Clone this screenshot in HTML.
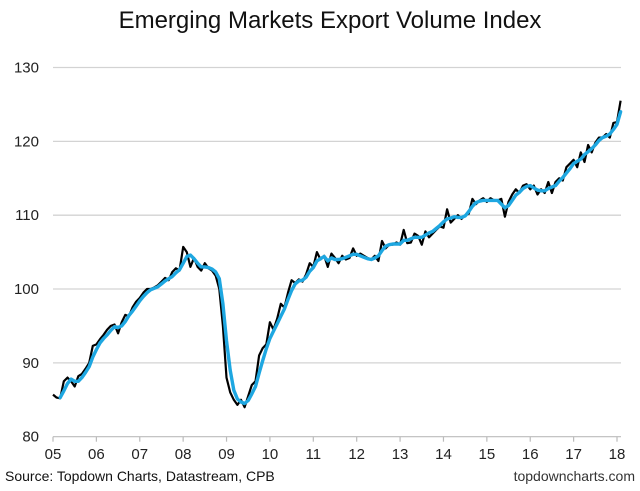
<!DOCTYPE html>
<html><head><meta charset="utf-8"><style>
body{margin:0;background:#fff;font-family:"Liberation Sans",Arial,sans-serif}
svg{display:block}
</style></head><body>
<svg id="c" width="640" height="491">
<text x="330" y="28" text-anchor="middle" font-size="24" fill="#111">Emerging Markets Export Volume Index</text>
<g id="grid"></g><g id="axes"></g><g id="series"></g>
<text x="5" y="481" font-size="14" fill="#111">Source: Topdown Charts, Datastream, CPB</text>
<text x="635" y="481" text-anchor="end" font-size="14" fill="#333">topdowncharts.com</text>
</svg>
<script>
const yTicks=[80,90,100,110,120,130];
const xTickLabels=["05","06","07","08","09","10","11","12","13","14","15","16","17","18"];
const startYear=2005;
const exportIndex=[85.7,85.3,85.2,87.5,88.0,87.5,86.8,88.2,88.5,89.2,90.0,92.3,
92.5,93.2,93.8,94.5,95.0,95.2,94.0,95.5,96.5,96.3,97.5,98.3,
98.8,99.5,100.0,100.0,100.2,100.5,101.0,101.5,101.2,102.3,102.8,102.5,
105.7,105.0,103.0,104.2,103.0,102.5,103.5,102.8,102.5,101.8,100.0,95.0,
88.0,86.0,85.0,84.3,85.0,84.0,85.5,87.0,87.5,91.0,92.0,92.5,
95.5,94.5,96.0,98.0,97.5,99.5,101.2,100.8,101.3,101.0,102.0,103.5,
103.0,105.0,104.0,104.5,103.0,104.8,104.2,103.5,104.5,104.0,104.2,105.5,
104.5,104.8,104.5,104.2,104.0,104.5,103.8,106.5,105.5,106.0,106.0,106.3,
106.0,108.0,106.2,106.3,107.5,107.2,106.0,107.8,107.0,107.5,108.0,108.5,
108.3,110.8,109.0,109.5,110.0,109.5,110.0,110.2,112.2,111.5,112.0,112.3,
111.8,112.3,112.0,112.0,112.2,109.8,111.8,112.8,113.5,113.0,114.0,114.2,
113.5,114.0,112.8,113.5,113.0,114.5,113.0,114.5,115.0,114.7,116.5,117.0,
117.5,116.5,118.5,117.2,119.5,118.5,119.8,120.5,120.5,121.0,120.5,122.5,
122.6,125.5];
const smoothStartMonth=2;
const smoothIndex=[85.3,86.2,87.2,87.8,87.5,87.5,88.0,88.7,89.5,90.8,
91.8,92.7,93.3,93.8,94.4,94.9,94.8,95.0,95.6,96.4,97.0,97.7,
98.4,99.0,99.5,99.9,100.1,100.3,100.7,101.1,101.4,101.7,102.2,102.6,
103.5,104.4,104.6,104.1,103.5,103.0,103.0,102.9,102.7,102.3,101.4,98.0,
93.0,89.0,86.3,85.1,84.7,84.5,84.9,85.8,86.8,88.6,90.3,91.9,
93.3,94.3,95.3,96.3,97.3,98.6,99.8,100.7,101.1,101.2,101.6,102.4,
102.9,103.8,104.1,104.4,103.8,104.2,104.0,104.0,104.1,104.3,104.5,104.7,
104.7,104.5,104.3,104.1,104.0,104.2,104.5,105.2,105.8,106.0,106.1,106.1,
106.1,106.6,106.6,106.8,107.0,107.0,107.0,107.3,107.6,107.8,108.2,108.6,
109.1,109.5,109.6,109.8,109.7,109.7,109.9,110.5,111.2,111.7,111.9,112.0,
112.0,112.0,112.0,112.0,111.5,111.0,111.3,112.0,112.7,113.1,113.6,113.9,
114.0,113.7,113.4,113.3,113.3,113.6,113.8,114.0,114.6,115.1,115.7,116.3,
117.0,117.3,117.6,118.2,118.6,119.0,119.5,120.1,120.5,120.7,121.0,121.6,
122.3,124.0];

const NS="http://www.w3.org/2000/svg";
const X0=53,X1=617,Y0=436.7,Y1=67.5;
function xScale(t){return X0+(t-startYear)/13*(X1-X0);}
function yScale(v){return Y0-(v-80)/50*(Y0-Y1);}
function mk(tag,attrs,parent){const e=document.createElementNS(NS,tag);for(const k in attrs)e.setAttribute(k,attrs[k]);parent.appendChild(e);return e;}
const grid=document.getElementById('grid'),axes=document.getElementById('axes'),series=document.getElementById('series');
yTicks.forEach(v=>{
  const y=yScale(v);
  if(v>80){const l=mk('line',{x1:X0,x2:621,y1:y,y2:y,stroke:'#d3d3d3','stroke-width':1.3},grid);
  
  }
  const t=mk('text',{x:39,y:y+5,'text-anchor':'end','font-size':15,fill:'#222'},axes);t.textContent=v;
  
  
});
const ax=mk('line',{x1:X0,x2:621,y1:Y0,y2:Y0,stroke:'#bbb','stroke-width':1.2},axes);


xTickLabels.forEach((s,i)=>{
  const x=xScale(startYear+i);
  mk('line',{x1:x,x2:x,y1:Y0,y2:Y0+5,stroke:'#bbb','stroke-width':1.2},axes);
  const t=mk('text',{x:x,y:459,'text-anchor':'middle','font-size':15,fill:'#222'},axes);t.textContent=s;
  
  
});
function path(arr,off){return arr.map((v,i)=>(i?'L':'M')+xScale(startYear+(i+off)/12).toFixed(1)+','+yScale(v).toFixed(1)).join('');}
const p1=mk('path',{d:path(exportIndex,0),fill:'none',stroke:'#000','stroke-width':2.2,'stroke-linejoin':'round'},series);


const p2=mk('path',{d:path(smoothIndex,smoothStartMonth),fill:'none',stroke:'#1ea7e1','stroke-width':3.4,'stroke-linejoin':'round','stroke-linecap':'round'},series);


</script>
</body></html>
